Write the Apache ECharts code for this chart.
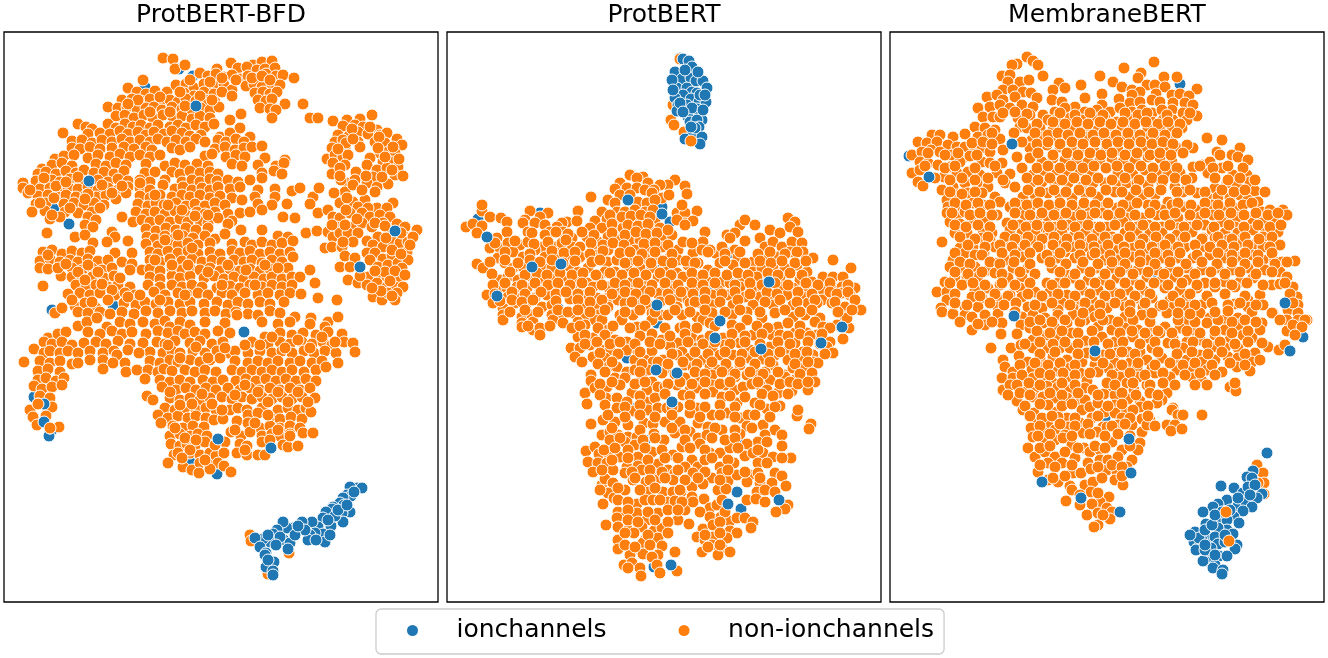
<!DOCTYPE html>
<html lang="en">

<head>
    <meta charset="UTF-8">
    <title>t-SNE embeddings</title>
    <style>
        * {
            margin: 0;
            padding: 0;
        }

        body {
            background: #fff;
        }

        .mychart {
            width: 1328px;
            height: 658px;
        }
    </style>
</head>

<body>
    <div class="mychart"></div>
</body>
<script src="https://cdn.jsdelivr.net/npm/echarts@6/dist/echarts.min.js"></script>
<script>
    // t-SNE has no ticks, so points are flat x,y lists read off the picture
    const titles = ['ProtBERT-BFD', 'ProtBERT', 'MembraneBERT']
    const classes = ['ionchannels', 'non-ionchannels']

    const bfdIonBack = [179,69, 193,76, 145,87, 54,209, 69,224, 396,232, 113,305, 52,310, 34,397, 52,430, 49,436, 217,474, 190,462]
    const bfdNon = [
        163,58, 173,59, 175,69, 185,65, 231,63, 253,65, 262,62, 272,61,
        217,69, 238,68, 247,67, 257,70, 265,69, 275,68, 200,73,
        208,76, 216,74, 224,77, 232,75, 240,79, 248,76, 258,78, 266,74, 276,76, 283,75, 294,78,
        143,80, 128,88, 167,92, 176,85, 186,84, 194,88, 204,84, 214,86, 224,85, 232,90, 246,86, 254,84, 262,87, 272,84, 280,85,
        137,92, 146,94, 155,91, 184,93, 194,96, 204,92, 214,94, 222,92, 232,96, 255,93, 263,92, 270,94, 277,92,
        122,100, 132,99, 141,101, 150,99, 160,103, 170,100, 178,102, 186,99, 196,101, 205,100, 215,102, 258,100, 266,101, 272,99, 285,104, 303,104,
        108,107, 118,108, 127,107, 137,109, 146,108, 154,107, 162,110, 172,107, 182,109, 192,111, 201,108, 210,110, 219,107, 260,108, 270,109, 276,110,
        116,116, 125,115, 134,118, 144,115, 153,118, 163,115, 173,117, 182,116, 192,119, 200,116, 210,118, 230,120, 241,114, 272,118, 310,118, 318,118,
        78,124, 86,127, 92,129, 108,124, 116,128, 125,124, 133,127, 141,125, 150,128, 158,125, 170,127, 178,125, 186,128, 196,125, 205,127, 214,124, 240,128,
        88,134, 100,133, 110,134, 120,131, 128,134, 138,132, 146,135, 154,132, 164,134, 172,131, 182,133, 190,136, 201,135, 220,137, 230,133, 63,133, 250,137,
        72,141, 82,140, 92,143, 102,140, 112,142, 122,139, 130,142, 140,140, 150,142, 158,139, 167,142, 176,140, 186,142, 196,139, 205,142, 218,140, 226,142, 236,139, 244,142,
        72,148, 80,149, 90,147, 100,149, 112,148, 124,147, 134,149, 146,147, 152,150, 172,148, 180,150, 190,147, 215,149, 225,147, 235,150, 244,148, 252,147, 262,146,
        55,159, 64,156, 74,155, 88,158, 98,155, 110,157, 120,154, 130,157, 140,155, 150,157, 160,155, 205,156, 212,154, 226,157, 236,155, 245,157, 265,158, 285,160,
        42,169, 52,165, 62,163, 72,166, 96,164, 106,166, 116,163, 126,165, 146,164, 165,166, 175,163, 185,165, 197,164, 208,166, 232,164, 242,166, 258,165, 276,166, 284,163,
        38,174, 46,172, 56,174, 66,171, 76,173, 84,170, 94,173, 104,172, 114,174, 124,171, 145,173, 155,172, 172,172, 180,174, 190,171, 200,173, 210,172, 218,174, 262,173, 274,171, 282,174,
        36,181, 44,183, 52,180, 60,182, 70,179, 80,182, 98,180, 108,182, 118,179, 128,181, 140,180, 150,182, 165,180, 182,182, 192,180, 200,182, 210,179, 217,181, 228,180, 238,182, 250,180, 262,178,
        23,183, 23,188, 40,189, 50,188, 58,190, 68,187, 78,189, 88,187, 98,190, 108,188, 118,190, 128,187, 140,188, 150,190, 163,185, 175,189, 183,187, 192,190, 202,188, 210,190, 218,187, 230,189, 240,187, 258,190, 275,189, 292,191, 300,188,
        28,193, 38,196, 48,195, 58,197, 66,195, 76,197, 86,195, 96,197, 106,195, 126,193, 140,196, 150,198, 160,195, 172,197, 182,195, 190,197, 200,195, 210,198, 220,196, 232,198, 242,200, 255,197, 275,197, 313,197, 319,188,
        36,204, 46,203, 64,204, 74,203, 84,205, 94,203, 104,205, 116,199, 138,204, 148,206, 156,203, 164,205, 176,203, 186,206, 195,204, 205,206, 215,203, 225,205, 258,204, 272,205, 287,204, 310,204,
        32,212, 45,211, 65,212, 78,213, 92,212, 122,217, 136,212, 146,214, 155,212, 165,214, 175,211, 185,214, 197,212, 205,214, 215,212, 228,214, 240,213, 250,212, 262,210,
        50,219, 60,217, 88,217, 96,220, 133,222, 142,220, 150,222, 160,220, 170,222, 180,219, 188,222, 200,221, 208,223, 218,218, 232,221, 283,217, 295,218,
        47,233, 85,225, 93,227, 112,232, 146,229, 156,231, 166,228, 176,230, 186,228, 196,230, 208,228, 228,224,
        75,237, 85,235, 115,237, 128,241, 147,237, 155,239, 165,236, 175,238, 183,236, 193,238, 205,236, 215,239, 225,234, 241,230, 262,230, 278,236, 288,237, 306,233, 317,231,
        93,243, 107,242, 146,244, 158,246, 168,243, 178,245, 188,243, 198,245, 210,243, 232,244, 245,242, 252,245, 262,242, 272,245, 282,243, 293,241,
        43,252, 52,250, 62,254, 72,251, 82,253, 90,251, 115,253, 132,253, 150,252, 158,254, 168,251, 178,253, 188,251, 198,254, 210,252, 220,254, 232,251, 240,253, 250,251, 260,254, 270,252, 280,254, 290,252,
        40,261, 50,259, 60,262, 70,260, 78,262, 88,259, 98,261, 108,260, 122,262, 132,264, 150,260, 160,262, 170,259, 182,261, 192,259, 202,262, 212,260, 222,262, 234,260, 244,262, 252,260, 262,263, 272,260, 282,262, 293,257,
        40,268, 48,269, 72,268, 82,270, 92,268, 102,270, 112,268, 142,270, 150,269, 160,271, 172,268, 182,270, 190,268, 200,270, 210,268, 220,271, 230,269, 240,271, 250,269, 260,271, 270,269, 280,271, 288,268, 310,270,
        61,276, 72,277, 82,279, 92,277, 104,278, 114,276, 150,277, 160,279, 172,276, 180,278, 190,276, 204,278, 214,276, 224,279, 234,277, 244,279, 254,277, 264,279, 272,277, 282,279, 292,277, 300,277,
        43,286, 76,285, 86,287, 96,285, 108,287, 118,285, 130,287, 148,285, 160,287, 172,285, 182,287, 192,285, 202,287, 217,288, 230,286, 240,288, 250,285, 262,287, 272,285, 282,287, 292,285, 315,283,
        68,294, 80,293, 90,295, 100,293, 115,295, 125,293, 135,295, 154,292, 165,295, 178,293, 188,295, 198,293, 208,295, 222,293, 232,295, 245,293, 258,295, 268,293, 280,295, 290,293, 301,294,
        75,306, 85,303, 96,308, 124,303, 136,305, 145,302, 156,304, 168,302, 180,304, 190,302, 204,304, 217,302, 228,305, 238,302, 248,304, 260,302, 270,304, 284,302, 318,298, 337,300,
        55,313, 62,308, 78,312, 88,313, 100,312, 110,314, 122,312, 134,314, 146,311, 158,313, 170,311, 182,313, 192,311, 205,313, 215,311, 226,314, 236,312, 248,314, 258,315, 270,311, 280,313, 295,317, 311,318, 328,322, 338,317,
        78,326, 87,322, 97,318, 107,327, 120,322, 130,324, 143,322, 155,324, 165,321, 170,327, 180,322, 190,325, 205,322, 225,323, 237,315, 262,322, 278,324, 290,322, 310,324, 325,327, 342,334,
        48,338, 58,334, 66,332, 88,332, 100,334, 112,331, 122,334, 132,332, 146,334, 158,331, 168,333, 178,331, 185,334, 195,332, 205,334, 218,331, 230,333, 265,337, 280,333, 292,335, 303,333, 316,335, 328,332,
        34,349, 44,342, 52,344, 62,342, 72,345, 84,343, 96,342, 106,344, 118,341, 130,344, 143,343, 157,342, 165,344, 175,341, 190,343, 200,341, 212,344, 223,342, 252,342, 268,344, 280,342, 290,344, 302,342, 312,344, 323,342, 332,345, 344,342,
        44,353, 50,351, 60,353, 68,351, 78,353, 90,351, 103,353, 114,351, 117,355, 128,350, 150,352, 163,353, 172,351, 180,353, 193,351, 205,353, 217,351, 228,353, 235,351, 248,353, 260,351, 272,353, 282,351, 292,353, 304,351, 314,353, 325,351, 336,353, 353,343, 355,352,
        24,362, 40,361, 50,363, 60,361, 72,364, 78,363, 90,360, 103,360, 113,363, 125,363, 139,353, 150,361, 160,363, 170,360, 178,362, 190,360, 200,362, 210,360, 220,358, 235,361, 248,363, 258,361, 268,363, 278,361, 290,363, 300,361, 312,363, 322,361, 338,363,
        38,371, 48,369, 60,372, 103,369, 126,372, 137,370, 148,370, 158,372, 164,369, 172,371, 185,370, 195,372, 205,370, 216,372, 232,370, 242,372, 252,370, 262,372, 272,370, 282,372, 292,370, 304,372, 316,370, 326,367,
        38,380, 46,378, 56,381, 64,378, 145,379, 160,380, 170,382, 180,380, 190,382, 203,380, 213,382, 223,380, 236,381, 246,379, 256,381, 266,379, 276,381, 286,379, 296,381, 306,379, 316,381,
        34,386, 42,389, 52,387, 62,385, 162,387, 176,390, 186,388, 196,390, 206,388, 216,390, 228,388, 240,390, 250,388, 260,390, 270,388, 280,390, 290,388, 300,390, 310,388,
        40,396, 50,398, 147,396, 153,400, 170,398, 180,400, 190,398, 200,400, 210,398, 222,397, 232,399, 242,397, 252,399, 262,397, 272,399, 282,397, 292,399, 302,397, 315,398,
        38,404, 48,410, 52,407, 165,408, 175,410, 185,408, 196,410, 206,408, 216,410, 230,410, 238,408, 247,410, 262,408, 278,410, 288,408, 298,410, 306,408,
        30,410, 33,417, 46,416, 158,415, 168,418, 178,416, 188,418, 196,416, 206,418, 214,420, 223,419, 237,421, 248,415, 258,413, 270,417, 280,419, 291,417, 302,419, 311,412,
        37,425, 50,428, 59,427, 161,423, 173,426, 183,428, 193,426, 204,427, 248,423, 260,428, 270,426, 280,428, 290,426, 300,428,
        170,436, 180,434, 190,436, 198,434, 207,436, 231,432, 241,436, 250,432, 262,436, 272,434, 280,436, 290,434, 303,433, 313,433,
        171,444, 180,446, 187,444, 195,446, 205,442, 225,442, 240,444, 247,446, 262,442, 283,445, 288,447, 298,446,
        174,455, 178,453, 190,453, 200,455, 210,453, 216,456, 224,453, 237,453, 247,455, 258,455, 265,455,
        168,463, 183,467, 192,470, 200,463, 209,465, 218,463, 224,466, 231,472, 199,473, 210,469,
        372,115, 347,120, 360,119, 333,121, 343,126, 355,125, 363,127, 377,130, 338,135, 349,136, 358,132, 368,134, 380,135, 387,133,
        335,142, 343,140, 358,142, 375,142, 385,143, 397,139, 402,145, 332,148, 345,148, 360,147, 380,153, 388,152, 395,153,
        327,159, 335,155, 343,157, 348,155, 370,158, 383,162, 392,162, 398,167, 333,163, 345,165, 367,165, 377,170, 387,168,
        332,174, 340,168, 356,172, 373,177, 395,175, 403,176, 347,183, 367,183, 388,184, 355,180, 377,187, 375,192, 345,192, 353,185,
        334,193, 340,203, 353,202, 365,200, 377,208, 393,203, 347,198, 358,207, 368,208, 387,208,
        318,213, 328,210, 333,217, 340,218, 350,213, 362,213, 370,217, 380,215, 390,217,
        317,231, 328,232, 337,227, 352,227, 362,223, 372,227, 383,223, 397,224,
        333,237, 340,233, 348,233, 358,233, 367,241, 378,237, 390,235, 405,227, 417,230, 405,237, 412,238, 397,233,
        325,248, 332,247, 342,247, 353,242, 373,245, 383,247, 393,242, 400,243, 408,242, 413,237,
        345,256, 355,258, 367,253, 375,253, 383,259, 392,255, 407,252, 410,245,
        340,267, 350,267, 370,260, 378,267, 388,265, 398,263, 408,260, 402,268,
        348,280, 358,283, 368,277, 380,275, 387,277, 398,278, 367,285, 377,283, 387,287, 395,287, 403,287,
        373,297, 382,300, 388,293, 397,293, 395,300,
        250,535, 251,541, 289,553, 268,574
    ]
    const bfdFill = [
        352,129, 370,127, 346,143, 353,139, 379,137, 393,147, 378,148, 385,157, 399,159, 338,149, 392,170, 382,177, 366,176, 341,180, 340,176, 362,190,
        346,210, 357,219, 375,223, 385,226, 345,225, 332,225, 343,242, 392,250, 401,254, 385,272, 395,271, 375,271, 390,281, 405,275, 360,276, 381,291, 392,296, 372,288, 401,233, 386,238,
        30,190, 44,178, 56,186, 66,182, 78,177, 88,194, 102,185, 112,193, 122,186, 40,203, 54,198, 70,208, 85,199, 100,208, 52,215, 140,183,
        48,255, 58,268, 66,264, 78,272, 88,265, 98,272, 85,280, 102,284, 112,290, 128,297, 72,300, 92,302, 108,300,
        170,392, 180,405, 192,404, 202,394, 212,404, 222,410, 235,395, 245,385, 258,392, 268,402, 278,392, 288,402, 298,392, 308,402, 268,415, 278,430, 290,436,
        175,428, 185,438, 196,440, 190,450, 182,458, 205,460, 215,445, 270,440, 255,423, 235,430, 245,450,
        168,345, 180,358, 196,347, 208,358, 225,348, 245,345, 260,345, 272,337, 285,348, 298,340, 310,348, 322,337, 335,342,
        222,78, 210,82, 236,80, 252,78, 262,76, 270,80, 190,80, 180,92, 160,97, 170,112, 185,106, 150,112, 138,100, 128,104, 212,100, 200,96,
        155,195, 168,205, 182,210, 195,216, 208,215, 165,240, 178,235, 192,248, 155,260, 172,265, 188,265, 208,272, 228,265, 246,270, 265,265, 278,268, 255,285, 222,285, 185,295, 160,300, 140,295, 120,278, 130,270
    ]
    const bfdIonFront = [
        196,106, 89,181, 360,267, 395,231, 244,332, 218,439, 271,448, 44,404, 44,422,
        357,488, 362,488, 350,487, 347,495, 351,496, 343,498, 340,503, 344,505, 333,507, 332,509, 326,512, 350,512, 342,513, 343,522, 331,526,
        323,518, 318,527, 312,522, 323,534, 315,533, 310,535, 325,542, 308,540, 301,528, 302,522, 293,528, 287,528, 283,522, 277,530, 273,534,
        284,540, 290,543, 288,549, 270,542, 263,539, 255,538, 260,547, 266,553, 265,555, 274,562, 266,567, 273,571, 273,575,
        335,516, 328,520, 338,510, 347,505, 354,492, 305,530, 295,535, 280,537, 268,535, 298,526, 316,540, 330,535, 276,545, 268,560
    ]
    const bfdNonFront = [38,404, 50,428]

    const protIonBack = [
        680,58, 662,207, 478,219, 670,222, 540,213, 730,253, 593,285, 660,270, 707,287, 668,293, 832,296,
        558,308, 719,320, 657,323, 627,358, 677,373, 636,408, 645,440, 743,444, 654,567, 737,492, 741,509, 813,295, 702,298, 738,297
    ]
    const protNon = [
        680,59, 673,105, 671,120, 674,125, 684,132,
        630,175, 643,177, 637,178, 620,183, 648,183, 675,180, 668,185, 660,185, 685,186,
        615,189, 627,188, 637,188, 645,190, 654,190, 687,194, 591,197, 608,200, 620,195, 630,195, 652,193, 662,198, 669,195,
        615,203, 638,202, 647,203, 655,200, 602,212, 578,211, 617,212, 625,212, 635,210, 645,212, 653,210, 677,213, 685,213, 697,211, 682,205,
        482,211, 530,211, 548,213, 540,217, 525,220, 567,222, 577,221, 595,221, 607,219, 617,220, 627,220, 637,223, 647,220, 655,220, 685,223, 693,221, 677,220,
        482,205, 490,217, 501,218, 507,222, 466,227, 473,224, 482,226,
        523,223, 535,223, 545,225, 562,223, 557,227, 590,228, 602,228, 615,228, 623,228, 633,228, 642,228, 652,229, 660,228, 685,225,
        740,225, 745,220, 755,225, 788,218, 795,222,
        477,233, 497,238, 507,232, 528,232, 550,232, 563,232, 572,238, 587,237, 598,242, 608,237, 618,240, 630,241, 640,240, 650,238, 662,237, 672,235, 705,232, 727,235, 735,233, 760,238, 770,230, 780,233, 790,227, 798,232,
        490,248, 500,248, 508,243, 520,245, 528,242, 542,247, 555,247, 572,247, 580,247, 598,250, 608,250, 625,250, 635,250, 648,250, 662,247, 678,250, 683,242, 703,242, 730,238, 745,241, 715,253, 722,247, 735,250, 765,247, 773,242, 782,247, 792,242, 802,243,
        498,258, 513,252, 523,257, 535,250, 545,257, 558,253, 570,258, 580,257, 597,255, 607,262, 617,260, 632,260, 645,258, 657,258, 670,257, 678,260, 693,253, 702,250, 710,250, 738,257, 753,262, 767,257, 778,257, 790,252, 803,252, 813,258,
        477,264, 483,268, 505,263, 513,268, 523,267, 542,267, 552,268, 570,267, 578,272, 588,268, 605,272, 615,272, 628,270, 640,268, 652,268, 665,268, 677,273, 688,265, 698,263, 708,270, 720,263, 733,265, 753,272, 762,268, 773,268, 785,268, 797,265, 807,272, 833,260, 851,268,
        500,280, 508,277, 518,280, 532,277, 542,280, 553,279, 563,280, 577,280, 587,283, 598,278, 608,287, 620,283, 632,282, 645,283, 658,277, 672,282, 683,277, 697,278, 708,282, 722,282, 730,283, 742,277, 757,277, 780,277, 800,280, 812,282, 823,277, 833,277, 843,277,
        497,290, 507,288, 517,287, 527,288, 540,290, 552,288, 560,287, 572,288, 583,290, 593,287, 620,292, 630,293, 642,290, 662,292, 675,288, 685,292, 695,287, 718,290, 740,287, 755,287, 763,290, 782,287, 793,288, 805,288, 823,290, 832,287, 842,287, 855,288,
        487,295, 508,297, 520,298, 535,298, 547,295, 570,299, 585,295, 597,298, 608,298, 618,300, 657,293, 678,298, 688,300, 712,295, 728,295, 745,297, 760,297, 772,295, 787,295, 803,297, 822,300, 842,293, 850,295,
        493,303, 503,308, 515,303, 527,303, 542,307, 552,305, 583,305, 595,307, 608,307, 625,303, 637,305, 648,305, 677,307, 690,303, 700,303, 712,305, 733,305, 753,305, 773,305, 793,305, 808,303, 817,303, 832,303, 845,307, 855,305, 861,310,
        503,315, 522,317, 532,315, 552,315, 562,315, 573,313, 585,316, 598,315, 620,315, 633,315, 652,313, 660,315, 668,315, 682,315, 697,317, 712,313, 732,315, 747,312, 775,313, 793,317, 805,315, 820,318, 845,317,
        503,320, 522,323, 533,322, 553,320, 563,323, 578,322, 595,320, 585,325, 602,320, 608,330, 622,320, 637,327, 652,320, 680,328, 692,330, 703,320, 710,323, 732,325, 747,320, 762,318, 778,327, 788,323, 815,322, 823,327, 849,328, 837,325, 847,318,
        533,330, 522,327, 578,337, 593,338, 615,340, 627,342, 662,340, 678,343, 692,338, 702,340, 723,338, 738,342, 753,335, 772,335, 780,335, 795,333, 807,333, 817,335, 830,342, 843,339,
        571,348, 580,348, 590,345, 602,350, 610,350, 627,350, 638,352, 652,351, 670,346, 682,352, 695,348, 712,348, 725,345, 740,343, 750,350, 770,347, 785,352, 795,343, 803,352, 813,355, 827,347, 833,353,
        575,357, 593,357, 605,358, 635,360, 645,360, 653,362, 663,360, 677,355, 690,358, 703,360, 720,355, 733,355, 748,358, 763,359, 775,355, 788,360, 800,360, 813,362, 818,363,
        608,367, 617,367, 627,372, 635,370, 648,370, 667,368, 685,365, 693,367, 710,367, 718,370, 728,370, 740,365, 755,373, 773,365, 785,375, 793,368, 803,368, 812,373,
        591,375, 615,378, 625,378, 642,378, 652,382, 662,373, 685,378, 700,378, 712,375, 735,377, 747,375, 765,372, 770,380, 785,377, 795,380, 803,382, 815,382,
        591,381, 607,387, 620,385, 632,393, 647,390, 658,387, 665,387, 677,385, 690,390, 697,388, 712,385, 725,385, 735,390, 743,387, 760,385, 767,390, 778,393, 792,391, 808,390,
        585,393, 595,388, 606,398, 617,398, 627,402, 647,402, 655,398, 683,395, 697,408, 713,392, 722,397, 737,403, 745,397, 755,403, 767,409, 780,406, 797,416, 798,410,
        587,404, 617,408, 633,411, 648,410, 658,408, 667,408, 678,407, 690,413, 712,415, 727,413, 740,418, 748,415,
        603,420, 615,422, 628,425, 644,423, 653,424, 665,422, 680,422, 698,423, 708,427, 722,430, 747,426, 763,425, 811,424, 809,429,
        591,424, 602,435, 610,432, 618,435, 628,437, 637,437, 654,434, 664,440, 675,433, 690,432, 698,438, 707,435, 740,434, 775,430, 782,435, 765,435, 758,442,
        613,445, 625,442, 635,445, 652,452, 673,455, 682,447, 700,444, 710,453, 720,453, 730,448, 747,444, 767,442, 782,446,
        586,451, 595,447, 599,454, 608,453, 620,457, 638,457, 678,458, 692,460, 745,456, 753,453, 763,453, 791,458, 773,457, 782,458,
        588,462, 598,463, 607,463, 627,467, 638,466, 658,464, 668,470, 685,467, 698,467, 720,467, 734,463, 758,463, 767,463,
        593,472, 613,470, 625,473, 642,470, 653,473, 675,473, 693,473, 712,478, 750,475, 758,473, 775,473, 782,476, 722,473,
        602,485, 605,479, 613,483, 625,490, 633,480, 646,482, 660,478, 673,480, 692,487, 703,484, 728,481, 737,475, 747,482, 760,483, 772,483, 786,486,
        608,493, 614,498, 649,492, 663,492, 673,492, 681,492, 692,497, 704,499, 718,490, 726,489, 757,492, 747,500, 756,499, 765,502,
        603,504, 637,504, 645,500, 653,500, 668,502, 675,501, 685,510, 693,502, 710,508, 717,505, 788,505, 785,509, 776,512,
        618,512, 625,517, 617,518, 637,513, 647,520, 658,513, 668,510, 700,512, 710,517, 721,517, 730,521, 737,518, 745,518, 753,522,
        606,525, 618,527, 628,530, 642,527, 654,531, 662,528, 678,520, 689,524, 703,529, 713,525, 730,531, 751,528, 737,533,
        618,540, 634,533, 645,540, 658,538, 697,537, 705,540, 713,537, 727,538,
        618,549, 633,550, 643,543, 662,546, 712,545, 702,552, 722,548, 730,552, 718,555,
        630,555, 643,554, 658,555, 675,552, 652,557,
        624,565, 632,563, 640,568, 657,565, 677,571, 660,573, 641,576, 628,568
    ]
    const protFill = [
        610,215, 622,217, 631,216, 641,215, 650,217, 612,224, 628,225, 638,226, 648,224,
        532,233, 545,235, 556,232, 568,234, 582,232, 594,235, 612,233, 625,235, 636,232, 646,234, 657,233, 668,230,
        495,243, 515,241, 534,244, 548,242, 562,243, 566,240, 591,243, 603,245, 613,243, 624,245, 644,244, 655,243, 668,245, 692,243,
        505,252, 530,254, 552,251, 564,253, 575,252, 590,254, 603,251, 620,253, 630,252, 642,254, 655,252, 672,254, 708,252, 725,254, 740,252, 758,254, 770,252, 785,254, 797,252,
        490,262, 505,260, 518,263, 530,260, 540,262, 552,260, 563,263, 575,261, 592,262, 600,260, 625,263, 638,261, 651,263, 663,261, 672,263, 686,261, 695,263, 725,261, 745,263, 760,261, 771,263, 782,261, 795,263, 806,261,
        492,274, 510,272, 525,275, 537,273, 547,275, 560,273, 572,275, 583,273, 596,275, 610,273, 622,275, 634,273, 646,275, 660,273, 671,275, 692,273, 703,275, 715,273, 727,275, 738,273, 748,275, 768,273, 778,275, 790,273, 802,275,
        493,285, 505,283, 522,285, 535,283, 548,285, 558,283, 570,285, 582,283, 602,285, 615,283, 625,285, 638,283, 652,285, 665,283, 678,285, 692,283, 703,285, 715,283, 735,285, 750,283, 762,285, 775,283, 788,285, 806,283, 818,285, 830,283, 848,285,
        495,294, 512,292, 525,294, 541,292, 556,294, 566,292, 578,294, 590,292, 612,294, 625,292, 636,294, 650,292, 668,294, 681,292, 693,294, 705,292, 722,294, 735,292, 750,294, 767,292, 777,294, 798,292, 812,294, 830,292, 837,294, 848,292,
        500,301, 512,300, 522,302, 533,300, 556,301, 578,300, 590,302, 602,300, 632,302, 645,300, 660,302, 670,300, 695,302, 705,300, 720,302, 738,300, 765,302, 780,300, 797,302, 815,300, 835,302, 855,300,
        510,312, 525,310, 538,312, 558,310, 568,312, 578,310, 590,312, 605,310, 625,312, 640,310, 655,312, 675,310, 690,312, 705,310, 725,312, 740,310, 760,312, 785,310, 800,312, 812,310, 838,312, 852,310,
        528,326, 540,328, 550,326, 572,328, 580,326, 598,328, 613,326, 630,328, 645,326, 665,328, 685,326, 697,328, 715,326, 740,328, 757,326, 768,328, 800,326, 830,328,
        540,335, 585,335, 605,335, 640,336, 652,334, 670,336, 685,334, 710,336, 732,334, 745,336, 762,334, 788,336, 800,334, 810,336, 822,334,
        585,344, 597,342, 610,344, 620,342, 635,344, 650,342, 660,344, 688,342, 703,344, 715,342, 730,344, 745,342, 760,344, 778,342, 790,344, 808,342, 820,344,
        600,353, 618,354, 640,352, 672,354, 695,352, 708,354, 725,352, 742,354, 755,352, 768,354, 780,352, 795,354, 807,352, 825,354,
        582,362, 598,364, 612,362, 642,364, 658,362, 668,364, 683,362, 697,364, 712,362, 726,364, 740,362, 755,364, 770,362, 795,364, 808,362,
        605,372, 640,372, 675,374, 695,372, 705,374, 722,372, 735,374, 750,372, 763,374, 778,372, 800,374,
        600,384, 612,382, 635,384, 645,382, 668,384, 680,382, 692,384, 705,382, 720,384, 730,382, 752,384, 758,382, 780,384, 790,382, 798,384, 808,382,
        600,395, 640,396, 665,394, 690,396, 705,394, 730,396, 762,394, 773,396, 788,394,
        605,405, 625,407, 640,405, 672,407, 690,405, 705,407, 720,405, 735,407, 760,405, 775,407,
        608,415, 625,417, 640,415, 655,417, 672,415, 700,417, 720,415, 735,417, 755,415, 770,417,
        612,428, 640,430, 672,428, 685,430, 715,428, 735,430, 752,428,
        610,440, 620,438, 643,440, 655,438, 685,440, 712,438, 725,440, 735,438,
        604,450, 615,448, 628,450, 645,448, 662,450, 690,448, 705,450, 738,448, 758,450,
        612,460, 628,458, 648,460, 665,458, 705,460, 712,458, 728,460,
        602,470, 632,472, 650,470, 662,472, 678,470, 705,472, 728,470, 745,472,
        635,478, 650,480, 665,478, 685,480, 698,478, 720,480, 760,478,
        600,490, 618,488, 640,490, 655,488, 680,490, 765,490, 775,492,
        618,500, 628,502, 660,500, 682,502, 722,500, 628,510, 648,512, 678,510, 725,512,
        628,520, 638,522, 655,520, 668,522, 720,522, 625,533, 648,535, 668,533, 705,535, 720,533, 625,545, 635,547, 650,545, 708,547, 720,545
    ]
    const protIonFront = [
        683,59, 689,61, 692,67, 675,72, 682,79, 691,78, 696,81, 703,81, 677,88, 707,88, 687,88, 692,92, 697,93, 683,95, 675,98, 691,99,
        699,102, 706,102, 678,105, 687,105, 697,109, 677,111, 688,117, 702,120, 690,122, 697,120, 699,127, 693,133, 702,137, 685,139, 700,144,
        685,70, 698,72, 672,80, 673,90, 700,95, 705,95, 680,103, 692,108, 703,110, 683,112, 695,128, 691,127,
        628,200, 662,214, 487,237, 532,267, 561,264, 769,282, 656,370, 677,373, 672,402, 761,349, 821,343, 842,327, 720,321, 715,338, 497,296, 657,305, 671,565, 779,500, 728,504
    ]
    const protNonFront = [691,141]

    const membIonBack = [1180,84, 909,156, 961,233, 1151,276, 1298,327, 1303,337, 1105,418]
    const membNon = [
        1027,57, 1033,61, 1038,65, 1017,64, 1012,65, 1154,62, 1124,68, 1141,73, 1100,76, 1002,76, 1010,75, 1043,76, 1138,78, 1164,77, 1177,77,
        1008,82, 1020,82, 1029,80, 1059,83, 1081,85, 1113,82, 1122,87, 1132,90, 1147,85, 1155,85, 1165,87, 1197,89,
        1003,90, 1013,90, 1023,92, 1053,90, 1065,88, 1102,94, 1140,92, 1156,94, 1172,95, 1180,94, 1189,96, 1132,95,
        987,97, 997,95, 1003,100, 1015,97, 1031,93, 1037,98, 1052,100, 1062,102, 1075,107, 1085,98, 1102,105, 1119,99, 1130,103, 1140,102, 1152,100, 1160,102, 1173,103, 1185,103, 1193,105,
        978,108, 990,107, 1000,105, 1010,108, 1022,105, 1033,107, 1043,115, 1055,112, 1065,108, 1085,112, 1097,110, 1110,112, 1120,108, 1132,112, 1142,110, 1152,113, 1172,110, 1183,113, 1197,116, 1162,110,
        983,117, 993,117, 1000,117, 1018,118, 1030,115, 1048,120, 1058,118, 1070,118, 1082,120, 1093,118, 1105,118, 1117,122, 1128,118, 1140,120, 1152,122, 1163,120, 1173,120, 1187,120,
        975,127, 985,128, 995,130, 1020,127, 1027,128, 1040,128, 1053,130, 1062,128, 1073,130, 1087,127, 1098,130, 1110,128, 1122,128, 1133,128, 1148,128, 1160,130, 1172,128, 1182,128,
        965,134, 978,137, 988,135, 1000,139, 1014,133, 1032,140, 1042,137, 1053,137, 1065,138, 1077,140, 1088,137, 1102,135, 1112,137, 1122,137, 1135,140, 1147,138, 1158,137, 1168,138, 1207,138, 1222,140,
        932,135, 940,135, 953,137, 918,142, 927,143, 937,142, 948,145, 957,147, 965,147,
        912,155, 922,152, 931,150, 940,152, 952,155, 963,158, 973,145, 982,148, 990,152, 1003,150, 1017,157, 1030,148, 1047,145, 1060,147, 1072,150, 1083,148, 1095,152, 1107,148, 1118,150, 1130,148, 1143,148, 1155,148, 1165,148, 1177,148, 1193,148, 1187,145, 1240,148, 1217,152,
        920,162, 928,163, 938,165, 950,167, 960,162, 970,156, 982,162, 990,163, 1002,163, 1030,158, 1042,162, 1053,158, 1065,160, 1077,160, 1088,162, 1100,160, 1112,160, 1123,162, 1135,160, 1148,157, 1160,158, 1172,162, 1193,167, 1202,165, 1210,162, 1220,155, 1232,155, 1238,157, 1248,160,
        912,173, 920,170, 918,182, 944,177, 957,173, 968,172, 980,175, 997,173, 1010,174, 1022,168, 1033,175, 1045,172, 1057,170, 1068,172, 1080,170, 1092,172, 1107,168, 1118,173, 1133,175, 1145,170, 1158,173, 1168,173, 1180,173, 1192,178, 1208,173, 1222,168, 1233,175, 1247,175,
        923,186, 942,190, 953,187, 965,183, 977,183, 988,187, 1005,183, 1015,187, 1032,182, 1042,182, 1055,183, 1068,183, 1082,187, 1093,183, 1105,183, 1117,185, 1127,183, 1137,183, 1148,185, 1162,183, 1175,187, 1187,188, 1198,193, 1215,188, 1227,183, 1237,185, 1250,182,
        947,200, 957,195, 968,193, 982,193, 995,197, 1000,202, 1023,197, 1035,195, 1048,193, 1060,195, 1072,198, 1085,193, 1098,197, 1115,192, 1130,197, 1143,195, 1155,195, 1168,202, 1183,192, 1197,193, 1207,197, 1218,197, 1230,198, 1240,195, 1255,191, 1265,192, 1248,200,
        948,207, 963,210, 973,203, 983,205, 1010,207, 1020,205, 1032,205, 1043,208, 1055,207, 1067,207, 1078,210, 1090,208, 1103,207, 1117,208, 1130,207, 1148,205, 1162,210, 1172,205, 1184,207, 1197,210, 1212,205, 1225,210, 1235,208, 1258,202,
        947,213, 957,217, 965,212, 975,217, 985,217, 997,215, 1025,215, 1037,217, 1048,217, 1060,217, 1072,217, 1088,217, 1102,213, 1113,217, 1127,218, 1142,218, 1157,215, 1168,217, 1178,218, 1190,217, 1200,217, 1213,215, 1225,217, 1237,217, 1250,217, 1262,212, 1270,210, 1283,210,
        950,222, 960,224, 972,222, 985,222, 1007,223, 1020,225, 1032,223, 1043,227, 1055,227, 1068,225, 1082,223, 1093,227, 1107,227, 1123,222, 1137,227, 1148,225, 1162,227, 1178,228, 1190,227, 1205,225, 1222,222, 1235,227, 1253,223, 1262,223, 1275,223, 1287,215,
        955,233, 967,233, 983,230, 992,233, 1010,230, 1022,233, 1035,233, 1048,233, 1062,233, 1073,237, 1085,233, 1098,232, 1112,237, 1125,233, 1137,232, 1150,233, 1162,233, 1177,235, 1192,232, 1212,230, 1225,233, 1238,233, 1253,230, 1265,233, 1278,232,
        942,242, 982,238, 990,240, 1005,237, 1018,240, 1032,240, 1047,238, 1060,242, 1072,243, 1087,243, 1102,242, 1115,240, 1132,240, 1145,242, 1158,240, 1170,242, 1183,240, 1203,238, 1215,238, 1228,240, 1243,238, 1263,237, 1253,245,
        960,248, 973,247, 995,247, 1010,247, 1023,250, 1040,247, 1053,252, 1065,252, 1073,247, 1088,247, 1102,250, 1118,250, 1133,248, 1148,250, 1160,247, 1173,247, 1185,247, 1205,247, 1225,252, 1238,243, 1263,247, 1280,245,
        953,260, 965,253, 975,255, 984,253, 1007,260, 1022,257, 1042,258, 1058,258, 1075,258, 1092,255, 1105,260, 1118,260, 1132,257, 1147,260, 1162,258, 1178,258, 1193,258, 1210,255, 1225,258, 1238,257, 1252,255, 1273,260, 1282,262, 1295,261, 1263,260,
        950,267, 960,268, 975,267, 988,270, 998,263, 1013,268, 1028,268, 1052,268, 1067,275, 1082,268, 1097,268, 1112,268, 1127,268, 1138,270, 1157,270, 1170,270, 1187,268, 1202,270, 1218,268, 1232,270, 1248,268, 1265,270, 1280,272, 1287,277,
        945,282, 955,277, 967,277, 978,277, 995,273, 1008,278, 1022,277, 1047,283, 1058,283, 1073,278, 1088,280, 1103,280, 1117,278, 1132,280, 1147,277, 1160,282, 1175,277, 1187,280, 1205,283, 1225,282, 1240,282, 1253,278, 1272,285, 1280,284, 1293,287,
        937,292, 947,292, 975,290, 988,288, 1000,285, 1020,288, 1035,292, 1050,292, 1067,295, 1082,290, 1098,290, 1113,292, 1128,290, 1143,290, 1165,288, 1180,290, 1197,288, 1215,287, 1235,287, 1260,295, 1297,297,
        947,300, 972,297, 982,298, 997,298, 1010,295, 1022,297, 1043,297, 1062,303, 1077,302, 1092,300, 1107,302, 1122,300, 1137,298, 1152,298, 1170,300, 1187,298, 1207,297, 1248,300, 1298,305,
        941,308, 953,313, 965,307, 978,307, 998,307, 1028,307, 1042,308, 1058,310, 1073,308, 1093,310, 1107,308, 1125,307, 1143,307, 1160,306, 1173,307, 1188,307, 1202,305, 1235,304, 1248,307, 1263,305, 1273,313, 1288,310, 1298,313, 1307,320,
        942,312, 953,314, 965,315, 972,317, 985,315, 998,314, 1022,317, 1033,315, 1045,318, 1058,315, 1073,315, 1085,320, 1095,317, 1110,320, 1125,317, 1142,315, 1167,313, 1187,320, 1200,313, 1210,318, 1225,320, 1238,318, 1252,312, 1272,313, 1287,320, 1298,320, 1305,320,
        972,330, 985,325, 1002,323, 1021,325, 1030,328, 1043,323, 1055,328, 1067,323, 1098,327, 1112,330, 1125,328, 1138,330, 1152,328, 1165,327, 1180,328, 1193,330, 1207,323, 1225,330, 1238,325, 1262,323, 1287,331, 1293,325, 1302,327,
        1001,334, 1017,334, 1033,340, 1047,335, 1058,338, 1072,333, 1085,341, 1102,337, 1115,342, 1133,337, 1148,338, 1160,333, 1173,338, 1187,342, 1200,340, 1215,335, 1230,340, 1243,335, 1260,330, 1252,338, 1295,335,
        991,348, 1011,348, 1021,345, 1033,348, 1048,348, 1060,348, 1070,348, 1087,352, 1103,355, 1117,353, 1128,352, 1140,352, 1152,348, 1168,343, 1183,348, 1200,355, 1213,347, 1225,348, 1238,348, 1255,353, 1268,347, 1279,350, 1285,345, 1262,343,
        1019,356, 1028,362, 1040,358, 1053,357, 1067,360, 1082,362, 1087,353, 1115,363, 1130,363, 1147,360, 1162,358, 1175,360, 1187,360, 1202,362, 1215,360, 1228,357, 1238,358, 1252,362, 1260,360,
        1003,360, 1005,367, 1013,372, 1032,370, 1042,367, 1058,371, 1070,368, 1080,373, 1095,365, 1108,368, 1120,372, 1137,368, 1152,368, 1163,372, 1177,370, 1192,370, 1207,370, 1222,372, 1237,367, 1250,371,
        1002,378, 1013,378, 1022,381, 1033,378, 1045,377, 1053,383, 1067,377, 1087,381, 1098,372, 1120,377, 1138,377, 1155,373, 1170,377, 1193,378, 1202,381, 1207,385,
        1003,390, 1010,385, 1025,392, 1035,388, 1047,386, 1058,387, 1068,390, 1085,388, 1093,390, 1113,387, 1127,383, 1147,385, 1134,390, 1195,385, 1230,387, 1236,391, 1235,383,
        1017,401, 1033,397, 1043,397, 1055,398, 1067,398, 1077,400, 1085,400, 1104,394, 1115,395, 1128,399, 1140,401, 1167,393, 1162,400, 1157,403,
        1023,410, 1034,413, 1048,405, 1057,412, 1067,418, 1082,410, 1090,407, 1098,403, 1115,405, 1105,412, 1125,410, 1140,407, 1133,410, 1173,408,
        1034,422, 1048,425, 1058,417, 1068,427, 1080,423, 1092,418, 1103,427, 1115,413, 1122,418, 1142,419, 1150,420, 1172,410, 1178,415, 1183,415, 1202,415,
        1031,428, 1043,432, 1055,430, 1065,435, 1083,433, 1097,432, 1107,427, 1118,425, 1132,425, 1142,432, 1147,425, 1167,425, 1175,425, 1171,431, 1182,429,
        1028,448, 1033,437, 1045,442, 1055,440, 1063,438, 1072,445, 1084,448, 1090,452, 1100,450, 1112,442, 1122,450, 1140,443, 1138,450,
        1035,457, 1045,452, 1055,457, 1065,452, 1075,458, 1088,463, 1100,460, 1108,460, 1118,457, 1132,460, 1127,467,
        1038,472, 1048,463, 1062,463, 1073,473, 1081,473, 1091,469, 1107,470, 1117,472,
        1048,480, 1058,482, 1070,486, 1085,485, 1093,482, 1115,480, 1123,485,
        1072,490, 1091,492, 1109,497, 1100,502, 1092,504, 1066,501, 1080,505, 1087,515, 1098,513, 1107,508, 1112,512, 1110,519, 1098,525, 1094,527,
        1257,465, 1263,473, 1264,483, 1258,483, 1264,494
    ]
    const membFill = [
        1003,113, 1015,112, 1027,114, 1060,113, 1075,115, 1090,113, 1103,115, 1125,113, 1138,115, 1147,113, 1167,115, 1190,113,
        1023,123, 1037,124, 1053,122, 1065,124, 1077,122, 1088,124, 1100,122, 1111,124, 1123,122, 1135,124, 1146,122, 1158,124, 1168,122, 1180,124,
        992,133, 1035,133, 1048,135, 1058,133, 1068,135, 1080,133, 1093,135, 1104,133, 1116,135, 1128,133, 1140,135, 1153,133, 1165,135, 1177,133,
        972,143, 983,142, 992,144, 1022,142, 1037,144, 1048,142, 1060,144, 1072,142, 1083,144, 1095,142, 1107,144, 1118,142, 1129,144, 1141,142, 1152,144, 1163,142, 1173,144,
        928,153, 945,155, 958,153, 977,155, 1038,153, 1053,155, 1067,153, 1078,155, 1090,153, 1101,155, 1112,153, 1125,155, 1137,153, 1150,155, 1160,153, 1171,155, 1183,153,
        925,166, 945,168, 955,166, 975,168, 995,166, 1037,168, 1048,166, 1060,168, 1071,166, 1083,168, 1094,166, 1106,168, 1117,166, 1129,168, 1141,166, 1153,168, 1165,166, 1177,168, 1200,166, 1213,168, 1228,166, 1243,168,
        935,178, 950,180, 962,178, 975,180, 988,178, 1003,180, 1027,178, 1038,180, 1050,178, 1062,180, 1074,178, 1086,180, 1098,178, 1112,180, 1125,178, 1139,180, 1152,178, 1163,180, 1175,178, 1186,180, 1215,178, 1228,180, 1240,178, 1255,180,
        950,192, 962,194, 975,192, 1028,190, 1040,192, 1054,190, 1066,192, 1079,190, 1091,192, 1106,190, 1122,192, 1136,190, 1149,192, 1161,190, 1177,192, 1190,190, 1205,192, 1222,190, 1234,192, 1245,190,
        955,203, 966,205, 978,203, 990,205, 1015,203, 1027,205, 1038,203, 1049,205, 1060,203, 1072,205, 1084,203, 1095,205, 1108,203, 1123,205, 1137,203, 1155,205, 1178,203, 1191,205, 1205,203, 1218,205, 1230,203, 1243,205, 1252,203,
        952,213, 970,215, 980,213, 992,215, 1015,213, 1030,215, 1042,213, 1054,215, 1066,213, 1081,215, 1095,213, 1108,215, 1120,213, 1135,215, 1150,213, 1165,215, 1175,213, 1190,215, 1205,213, 1219,215, 1231,213, 1244,215, 1256,213, 1268,215, 1278,213,
        955,225, 966,227, 978,225, 990,227, 1013,225, 1026,227, 1037,225, 1049,227, 1062,225, 1075,227, 1088,225, 1100,227, 1115,225, 1130,227, 1143,225, 1155,227, 1170,225, 1184,227, 1197,225, 1214,227, 1229,225, 1244,227, 1258,225, 1270,227, 1281,225,
        960,237, 975,239, 988,237, 1015,239, 1028,237, 1042,239, 1054,237, 1067,239, 1079,237, 1092,239, 1105,237, 1118,239, 1130,237, 1143,239, 1156,237, 1170,239, 1185,237, 1202,239, 1218,237, 1232,239, 1245,237, 1259,239, 1272,237,
        968,245, 985,247, 1000,245, 1012,247, 1025,245, 1038,247, 1053,245, 1066,247, 1080,245, 1094,247, 1108,245, 1124,247, 1140,245, 1152,247, 1165,245, 1178,247, 1195,245, 1210,247, 1222,245, 1234,247, 1248,245, 1270,247,
        955,253, 982,255, 1002,253, 1015,255, 1030,253, 1047,255, 1060,253, 1080,255, 1095,253, 1110,255, 1125,253, 1140,255, 1155,253, 1168,255, 1180,253, 1197,255, 1218,253, 1232,255, 1245,253, 1258,255, 1272,253,
        960,262, 970,264, 990,262, 1000,264, 1014,262, 1030,264, 1050,262, 1066,264, 1083,262, 1098,264, 1112,262, 1125,264, 1140,262, 1155,264, 1170,262, 1186,264, 1202,262, 1217,264, 1232,262, 1245,264, 1258,262, 1275,264, 1287,262,
        955,272, 968,274, 982,272, 1002,274, 1020,272, 1035,274, 1060,272, 1075,274, 1090,272, 1105,274, 1120,272, 1133,274, 1148,272, 1164,274, 1178,272, 1195,274, 1211,272, 1225,274, 1240,272, 1256,274, 1272,272,
        950,283, 962,285, 973,283, 985,285, 1002,283, 1015,285, 1030,283, 1052,285, 1065,283, 1080,285, 1095,283, 1110,285, 1125,283, 1140,285, 1154,283, 1168,285, 1182,283, 1197,285, 1215,283, 1232,285, 1247,283, 1263,285, 1285,283,
        955,294, 980,296, 995,294, 1008,296, 1028,294, 1042,296, 1058,294, 1075,296, 1090,294, 1105,296, 1120,294, 1135,296, 1150,294, 1173,296, 1190,294, 1207,296, 1225,294, 1245,296, 1290,294,
        955,303, 967,305, 990,303, 1004,305, 1016,303, 1035,305, 1052,303, 1070,305, 1085,303, 1100,305, 1115,303, 1130,305, 1145,303, 1163,305, 1180,303, 1195,305, 1212,303, 1228,305, 1240,303, 1256,305, 1293,303,
        960,322, 978,324, 992,322, 1030,322, 1040,320, 1052,322, 1065,320, 1080,322, 1103,320, 1118,322, 1133,320, 1150,322, 1178,320, 1195,322, 1218,320, 1232,322, 1245,320, 1256,322, 1280,320,
        1037,331, 1050,333, 1062,331, 1078,333, 1092,331, 1120,333, 1132,331, 1145,333, 1158,331, 1172,333, 1187,331, 1200,333, 1215,331, 1232,333, 1248,331,
        1025,344, 1040,342, 1053,344, 1065,342, 1078,344, 1094,342, 1108,344, 1123,342, 1140,344, 1155,342, 1175,344, 1193,342, 1207,344, 1220,342, 1235,344, 1248,342,
        1040,354, 1055,352, 1078,354, 1095,356, 1110,354, 1122,352, 1135,354, 1158,352, 1177,354, 1192,352, 1208,354, 1222,352, 1245,354,
        1020,365, 1035,363, 1048,365, 1060,363, 1075,365, 1103,363, 1122,365, 1138,363, 1155,365, 1170,363, 1183,365, 1195,363, 1212,365, 1230,363, 1245,365,
        1022,375, 1040,373, 1050,375, 1063,373, 1075,375, 1090,373, 1112,375, 1130,373, 1145,375, 1163,373, 1185,375, 1200,373, 1215,375,
        1017,385, 1029,383, 1040,385, 1062,383, 1075,385, 1107,383, 1115,385, 1133,383, 1150,385, 1163,383, 1175,385,
        1008,395, 1020,393, 1030,395, 1050,393, 1062,395, 1078,393, 1098,395, 1122,393, 1136,395, 1150,393, 1158,395,
        1025,406, 1040,404, 1062,406, 1072,404, 1108,406, 1122,404, 1148,406,
        1030,416, 1042,418, 1052,416, 1075,418, 1098,416, 1130,418, 1148,416,
        1040,426, 1060,424, 1075,426, 1088,424, 1112,426, 1125,424, 1155,426,
        1038,436, 1050,434, 1072,436, 1090,434, 1105,436, 1118,434, 1130,436,
        1040,448, 1050,446, 1078,448, 1095,446, 1105,448, 1130,446,
        1040,465, 1055,467, 1072,465, 1098,467, 1112,465, 1122,467,
        1053,478, 1065,476, 1102,478, 1122,476, 1080,495, 1098,493, 1103,515,
        1015,312, 1083,313, 1100,314, 1130,312, 1152,313, 1178,313, 1190,314, 1215,312, 1228,311
    ]
    const membIonFront = [
        1012,144, 929,177, 1014,316, 1285,303, 1290,351, 1095,351, 1129,439, 1131,473, 1042,482, 1081,498, 1120,512,
        1267,453, 1253,471, 1247,477, 1252,478, 1262,494, 1257,498, 1221,486, 1234,488, 1243,493, 1248,487, 1227,500, 1218,504, 1238,506, 1246,502, 1252,507, 1243,511,
        1213,507, 1203,512, 1234,517, 1218,521, 1239,523, 1227,520, 1206,524, 1195,532, 1227,530, 1218,528, 1208,537, 1215,537, 1233,534, 1194,542, 1202,540, 1218,544, 1225,542,
        1237,545, 1235,549, 1198,548, 1211,548, 1219,556, 1227,556, 1207,560, 1210,562, 1203,561, 1215,565, 1213,568, 1223,570, 1222,574,
        1199,538, 1205,530, 1190,535, 1196,550, 1205,550, 1212,525, 1222,512, 1230,510, 1238,498, 1255,485, 1250,495, 1215,515, 1225,535, 1205,545, 1215,555
    ]
    const membNonFront = [1226,512, 1229,541]

    const blue = '#1f77b4'
    const orange = '#ff7f0e'
    const frameX = [[4, 438], [447, 881], [890, 1324]]
    const frameY = [32, 602]

    // flat x,y list -> [[x,y],...]
    function toPoints(flat) {
        const out = []
        for (let i = 0; i < flat.length; i += 2) out.push([flat[i], flat[i + 1]])
        return out
    }

    // draw order: hidden blues, oranges, visible blues, oranges on top of them
    const layers = [
        [bfdIonBack, bfdNon.concat(bfdFill), bfdIonFront, bfdNonFront],
        [protIonBack, protNon.concat(protFill), protIonFront, protNonFront],
        [membIonBack, membNon.concat(membFill), membIonFront, membNonFront]
    ]

    const series = []
    layers.forEach((panel, p) => {
        panel.forEach((flat, l) => {
            const isIon = l % 2 === 0
            series.push({
                type: 'scatter',
                name: isIon ? classes[0] : classes[1],
                xAxisIndex: p,
                yAxisIndex: p,
                z: 2 + l,
                symbolSize: 12,
                large: false,
                data: toPoints(flat),
                itemStyle: {
                    color: isIon ? blue : orange,
                    opacity: 1,
                    borderColor: '#fff',
                    borderWidth: 1
                },
                emphasis: { disabled: true },
                animation: false
            })
        })
    })

    const mychartDom = document.querySelector('.mychart')
    const myChart = echarts.init(mychartDom)

    const config = {
        animation: false,
        backgroundColor: '#fff',
        title: titles.map((text, i) => ({
            text,
            left: (frameX[i][0] + frameX[i][1]) / 2,
            top: 3,
            padding: 0,
            textAlign: 'center',
            textStyle: { fontFamily: 'DejaVu Sans', fontSize: 25, fontWeight: 'normal', color: '#000' }
        })),
        grid: frameX.map(f => ({
            show: true,
            left: f[0],
            top: frameY[0],
            width: f[1] - f[0],
            height: frameY[1] - frameY[0],
            borderColor: '#000',
            borderWidth: 1.3,
            backgroundColor: '#fff'
        })),
        xAxis: frameX.map((f, i) => ({ type: 'value', gridIndex: i, min: f[0], max: f[1], show: false })),
        yAxis: frameX.map((f, i) => ({ type: 'value', gridIndex: i, min: frameY[0], max: frameY[1], inverse: true, show: false })),
        legend: {
            data: classes,
            left: 376,
            top: 609,
            orient: 'horizontal',
            icon: 'circle',
            itemWidth: 14,
            itemHeight: 11,
            itemGap: 72,
            padding: [9, 10, 11, 31],
            backgroundColor: '#fff',
            borderColor: '#ccc',
            borderWidth: 1.3,
            borderRadius: 5,
            selectedMode: false,
            itemStyle: { borderWidth: 0 },
            textStyle: { fontFamily: 'DejaVu Sans', fontSize: 25, color: '#000', padding: [2, 0, 0, 32] }
        },
        series
    }

    myChart.setOption(config)
</script>

</html>
